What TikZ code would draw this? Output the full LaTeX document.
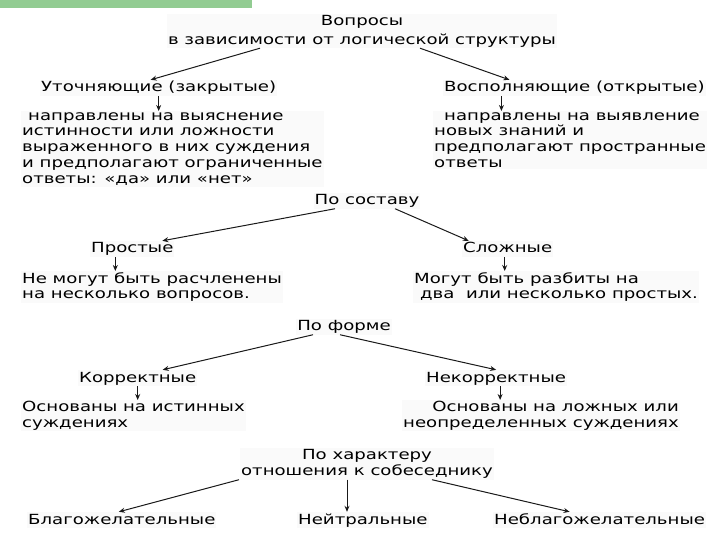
\documentclass[tikz,border=0pt]{standalone}
\usepackage{fontspec}
\setmainfont[FakeStretch=1.3]{DejaVu Sans}
\usepackage{xcolor}
\usetikzlibrary{arrows.meta,positioning,calc}
\definecolor{topbar}{RGB}{146,204,146}
\definecolor{txtbg}{RGB}{250,250,250}

\begin{document}
\begin{tikzpicture}[
x=1bp, y=-1bp,
lbl/.style={inner sep=1bp, fill=txtbg, font=\fontsize{14}{16}\selectfont},
word/.style={lbl, anchor=west, text height=11bp, text depth=3bp},
blk/.style={lbl, align=left},
arrow/.style={-{Stealth[length=6bp,width=5bp]}, line width=1bp, black!90}
]
\useasboundingbox (0,0) rectangle (720,540);
\fill[topbar] (0,0) rectangle (252,8);

\node[lbl, align=center] (root) at (362,31) {Вопросы\\[3bp]в зависимости от логической структуры};
\node[word] (utoch) at (40,88) {Уточняющие (закрытые)};
\node[word] (vospoln) at (443,88) {Восполняющие (открытые)};
\node[blk, anchor=north west] (utochtxt) at (21,111) {\hspace{6bp}направлены на выяснение\\истинности или ложности\\выраженного в них суждения\\и предполагают ограниченные\\ответы: «да» или «нет»};
\node[blk, anchor=north west] (vospolntxt) at (433,111) {\hspace{10bp}направлены на выявление\\новых знаний и\\предполагают пространные\\ответы};

\node[lbl] (sostav) at (367,201) {По составу};
\node[word] (prost) at (90,249) {Простые};
\node[word] (slozh) at (462,249) {Сложные};
\node[blk, anchor=north west] (prosttxt) at (21,271) {Не могут быть расчленены\\на несколько вопросов.};
\node[blk, anchor=north west] (slozhtxt) at (413,271) {Могут быть разбиты на\\\hspace{6bp}два\ \ или несколько простых.};

\node[lbl] (forma) at (344,327) {По форме};
\node[word] (korr) at (78,378) {Корректные};
\node[word] (nekorr) at (425,378) {Некорректные};
\node[blk, anchor=north west] (korrtxt) at (21,400) {Основаны на истинных\\суждениях};
\node[lbl, align=right, anchor=north east] (nekorrtxt) at (680,400) {Основаны на ложных или\\неопределенных суждениях};

\node[lbl, align=center] (harakter) at (367,464) {По характеру\\отношения к собеседнику};
\node[word] (blago) at (27,520) {Благожелательные};
\node[word] (neytr) at (297,520) {Нейтральные};
\node[word] (neblago) at (493,520) {Неблагожелательные};

% logical structure
\draw[arrow] ([xshift=-102bp]root.south) -- ([xshift=-8bp]utoch.north);
\draw[arrow] ([xshift=58bp]root.south) -- ([xshift=-65bp]vospoln.north);
\draw[arrow] (utoch.south) -- (utoch.south |- utochtxt.north);
\draw[arrow] ([xshift=-73bp]vospoln.south) -- ([xshift=-73bp]vospoln.south |- vospolntxt.north);
% composition
\draw[arrow] ([xshift=-32bp]sostav.south) -- ([xshift=30bp]prost.north);
\draw[arrow] ([xshift=28bp]sostav.south) -- ([xshift=-39bp]slozh.north);
\draw[arrow] ([xshift=-17bp]prost.south) -- ([xshift=-17bp]prost.south |- prosttxt.north);
\draw[arrow] ([xshift=-3bp]slozh.south) -- ([xshift=-3bp]slozh.south |- slozhtxt.north);
% form
\draw[arrow] ([xshift=-31bp]forma.south) -- ([xshift=25bp]korr.north);
\draw[arrow] ([xshift=-4bp]forma.south) -- (nekorr.north);
\draw[arrow] (korr.south) -- (korr.south |- korrtxt.north);
\draw[arrow] ([xshift=4bp]nekorr.south) -- ([xshift=4bp]nekorr.south |- nekorrtxt.north);
% attitude
\draw[arrow] ([xshift=-128bp]harakter.south) -- ([xshift=-3bp]blago.north);
\draw[arrow] ([xshift=-20bp]harakter.south) -- ([xshift=-20bp]harakter.south |- neytr.north);
\draw[arrow] ([xshift=65bp]harakter.south) -- ([xshift=-30bp]neblago.north);
\end{tikzpicture}
\end{document}
